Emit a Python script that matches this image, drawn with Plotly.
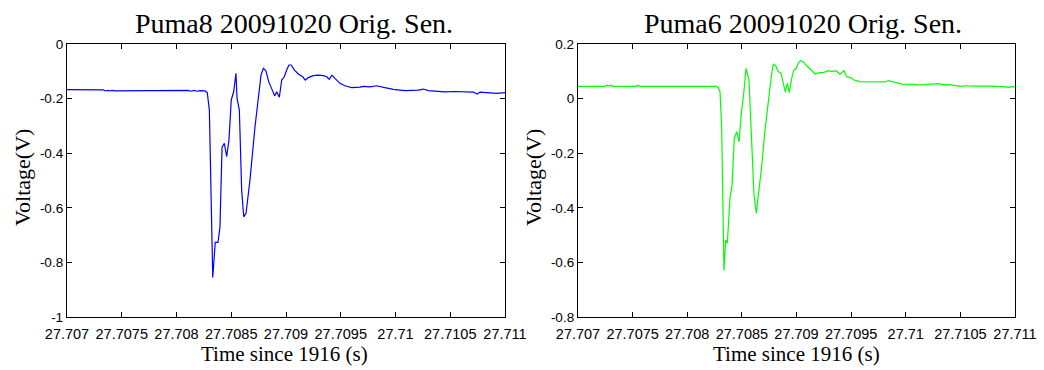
import plotly.graph_objects as go

# ---- data ----
t8 = [27.707000, 27.707329, 27.707356, 27.707374, 27.707393, 27.707411, 27.707438,
      27.708078, 27.708105, 27.708132, 27.708160, 27.708187, 27.708215, 27.708260,
      27.708281, 27.708300, 27.708331, 27.708354, 27.708379, 27.708397, 27.708416,
      27.708437, 27.708458, 27.708479, 27.708500, 27.708522, 27.708543, 27.708553,
      27.708574, 27.708595, 27.708614, 27.708635, 27.708671, 27.708717, 27.708751,
      27.708772, 27.708793, 27.708817, 27.708842, 27.708875, 27.708897, 27.708915,
      27.708939, 27.708961, 27.708984, 27.709006, 27.709027, 27.709048, 27.709076,
      27.709112, 27.709153, 27.709176, 27.709204, 27.709249, 27.709295, 27.709341,
      27.709372, 27.709395, 27.709420, 27.709447, 27.709493, 27.709539, 27.709600,
      27.709676, 27.709706, 27.709767, 27.709828, 27.709904, 27.709980, 27.710087,
      27.710208, 27.710254, 27.710300, 27.710452, 27.710543, 27.710711, 27.710747,
      27.710772, 27.710893, 27.710924, 27.711000]
v8 = [-0.167, -0.168, -0.172, -0.170, -0.172, -0.170, -0.172,
      -0.172, -0.170, -0.173, -0.170, -0.173, -0.171, -0.172,
      -0.178, -0.242, -0.855, -0.727, -0.727, -0.669, -0.378,
      -0.364, -0.413, -0.352, -0.205, -0.175, -0.107, -0.199,
      -0.242, -0.535, -0.633, -0.620, -0.498, -0.303, -0.193,
      -0.114, -0.089, -0.098, -0.138, -0.168, -0.190, -0.175,
      -0.195, -0.132, -0.120, -0.095, -0.077, -0.077, -0.095,
      -0.110, -0.120, -0.132, -0.123, -0.116, -0.114, -0.116,
      -0.120, -0.129, -0.114, -0.126, -0.144, -0.153, -0.160,
      -0.158, -0.155, -0.157, -0.153, -0.160, -0.166, -0.171,
      -0.169, -0.165, -0.171, -0.175, -0.174, -0.176, -0.183,
      -0.176, -0.178, -0.181, -0.178]

t6 = [27.707000, 27.707247, 27.707265, 27.707284, 27.707302, 27.707320, 27.707531,
      27.707549, 27.707568, 27.708270, 27.708284, 27.708300, 27.708315, 27.708336,
      27.708352, 27.708367, 27.708391, 27.708410, 27.708431, 27.708453, 27.708474,
      27.708495, 27.708517, 27.708538, 27.708565, 27.708590, 27.708611, 27.708632,
      27.708650, 27.708681, 27.708712, 27.708742, 27.708769, 27.708788, 27.708812,
      27.708833, 27.708858, 27.708879, 27.708898, 27.708916, 27.708934, 27.708959,
      27.708977, 27.708998, 27.709020, 27.709038, 27.709062, 27.709087, 27.709117,
      27.709148, 27.709172, 27.709209, 27.709252, 27.709291, 27.709322, 27.709362,
      27.709398, 27.709435, 27.709460, 27.709496, 27.709526, 27.709581, 27.709810,
      27.709840, 27.709886, 27.709963, 27.710069, 27.710100, 27.710176, 27.710238,
      27.710298, 27.710344, 27.710405, 27.710497, 27.710542, 27.710618, 27.710680,
      27.710771, 27.710893, 27.710939, 27.710970, 27.711000]
v6 = [0.045, 0.045, 0.049, 0.046, 0.049, 0.045, 0.045,
      0.049, 0.045, 0.045, 0.040, 0.025, -0.103, -0.630,
      -0.518, -0.530, -0.365, -0.316, -0.146, -0.121, -0.158,
      -0.054, 0.019, 0.111, 0.068, -0.188, -0.353, -0.420,
      -0.359, -0.249, -0.115, -0.005, 0.080, 0.127, 0.119,
      0.099, 0.093, 0.056, 0.025, 0.056, 0.022, 0.080,
      0.105, 0.111, 0.132, 0.139, 0.135, 0.123, 0.111,
      0.102, 0.090, 0.095, 0.096, 0.102, 0.099, 0.102,
      0.089, 0.102, 0.080, 0.077, 0.068, 0.062, 0.061,
      0.066, 0.061, 0.053, 0.052, 0.050, 0.051, 0.052,
      0.055, 0.050, 0.051, 0.045, 0.047, 0.046, 0.047,
      0.046, 0.044, 0.041, 0.044, 0.043]

x_tickvals = [27.707, 27.7075, 27.708, 27.7085, 27.709, 27.7095, 27.71, 27.7105, 27.711]
x_ticktext = ["27.707", "27.7075", "27.708", "27.7085", "27.709", "27.7095", "27.71", "27.7105", "27.711"]
y8_tickvals = [0, -0.2, -0.4, -0.6, -0.8, -1]
y8_ticktext = ["0", "-0.2", "-0.4", "-0.6", "-0.8", "-1"]
y6_tickvals = [0.2, 0, -0.2, -0.4, -0.6, -0.8]
y6_ticktext = ["0.2", "0", "-0.2", "-0.4", "-0.6", "-0.8"]

titles = ["Puma8 20091020 Orig. Sen.", "Puma6 20091020 Orig. Sen."]
xlabel = "Time since 1916 (s)"
ylabel = "Voltage(V)"

W, H = 1044, 370
serif = "Liberation Serif, Times New Roman, serif"
sans = "Liberation Sans, Arial, sans-serif"

fig = go.Figure()
fig.add_trace(go.Scatter(x=t8, y=v8, mode="lines", line=dict(color="#0000ff", width=1.2),
                         xaxis="x", yaxis="y", showlegend=False))
fig.add_trace(go.Scatter(x=t6, y=v6, mode="lines", line=dict(color="#00ff00", width=1.2),
                         xaxis="x2", yaxis="y2", showlegend=False))

ydom = [(H - 317) / H, (H - 44) / H]
dom1 = [67 / W, 505 / W]
dom2 = [578 / W, 1015 / W]

common_x = dict(range=[27.707, 27.711], tickvals=x_tickvals, ticktext=x_ticktext,
                ticks="inside", ticklen=5, tickcolor="black", showline=True, linecolor="black",
                linewidth=1.3, mirror="allticks", showgrid=False, zeroline=False, automargin=False,
                ticklabelstandoff=3,
                tickfont=dict(family=sans, size=14.5, color="black"))
common_y = dict(ticks="inside", ticklen=5, tickcolor="black", showline=True, linecolor="black",
                linewidth=1.3, mirror="allticks", showgrid=False, zeroline=False, automargin=False,
                tickfont=dict(family=sans, size=13.5, color="black"))

fig.update_layout(
    width=W, height=H, margin=dict(l=0, r=0, t=0, b=0, autoexpand=False),
    paper_bgcolor="white", plot_bgcolor="white",
    xaxis=dict(domain=dom1, anchor="y", **common_x),
    yaxis=dict(domain=ydom, anchor="x", range=[-1, 0], tickvals=y8_tickvals, ticktext=y8_ticktext, **common_y),
    xaxis2=dict(domain=dom2, anchor="y2", **common_x),
    yaxis2=dict(domain=ydom, anchor="x2", range=[-0.8, 0.2], tickvals=y6_tickvals, ticktext=y6_ticktext, **common_y),
)

ann = []
for cx, ttl in [(294, titles[0]), (803, titles[1])]:
    ann.append(dict(text=ttl, x=cx / W, y=(H - 23) / H, xref="paper", yref="paper",
                    xanchor="center", yanchor="middle", showarrow=False,
                    font=dict(family=serif, size=28, color="black")))
for cx in [284, 796]:
    ann.append(dict(text=xlabel, x=cx / W, y=(H - 354) / H, xref="paper", yref="paper",
                    xanchor="center", yanchor="middle", showarrow=False,
                    font=dict(family=serif, size=21, color="black")))
for cx in [22, 533]:
    ann.append(dict(text=ylabel, x=cx / W, y=(H - 178) / H, xref="paper", yref="paper",
                    xanchor="center", yanchor="middle", showarrow=False, textangle=-90,
                    font=dict(family=serif, size=22, color="black")))
fig.update_layout(annotations=ann)

fig.write_html("out.html")
